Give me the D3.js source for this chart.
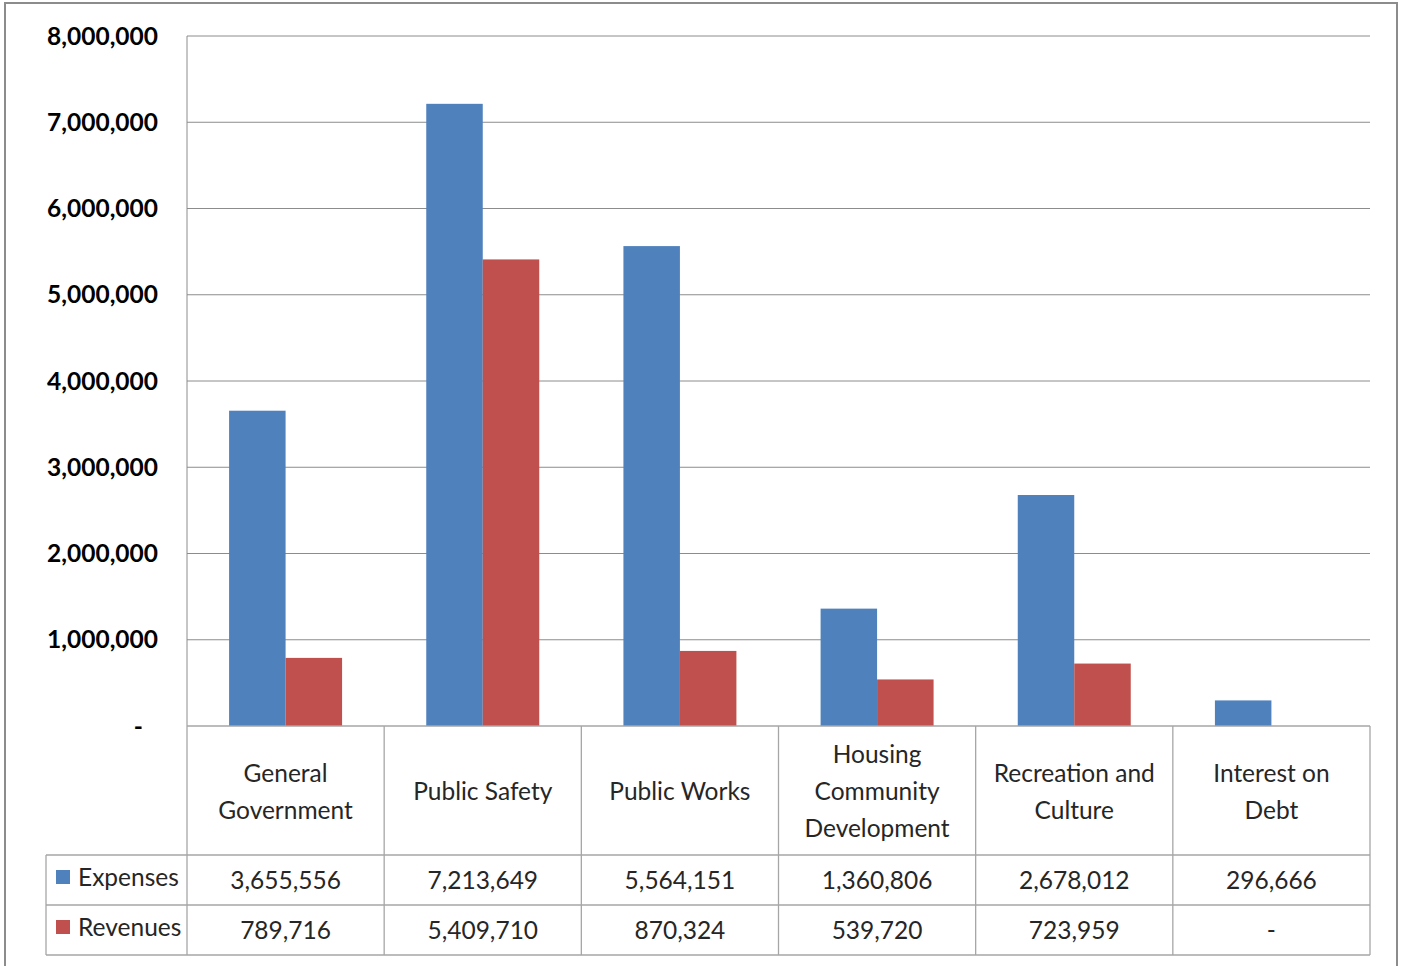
<!DOCTYPE html>
<html><head><meta charset="utf-8">
<script src="https://cdn.jsdelivr.net/npm/d3@7"></script>
<style>body{margin:0;background:#fff}svg{display:block}</style>
</head><body>
<script>
const categories = [["General","Government"],["Public Safety"],["Public Works"],["Housing","Community","Development"],["Recreation and","Culture"],["Interest on","Debt"]];
const seriesNames = ["Expenses","Revenues"];
const expenses = [3655556, 7213649, 5564151, 1360806, 2678012, 296666];
const revenues = [789716, 5409710, 870324, 539720, 723959, 0];
const yTicks = [0,1000000,2000000,3000000,4000000,5000000,6000000,7000000,8000000];
const colors = ["#4F81BD","#C0504D"];

const W=1401,H=966;
const svg=d3.select("body").append("svg").attr("width",W).attr("height",H);
const font="Lato, 'Open Sans', sans-serif";
svg.append("rect").attr("x",5).attr("y",3).attr("width",1392).attr("height",H+10).attr("fill","#fff").attr("stroke","#8c8c8c").attr("stroke-width",2);

const L=187,R=1370,T=36,B=726;
const ids=d3.range(categories.length);
const x=d3.scaleBand().domain(ids).range([L,R]).paddingInner(0).paddingOuter(0);
const x1=d3.scaleBand().domain([0,1]).range([0,x.bandwidth()]).paddingOuter(0.745).paddingInner(0);
const y=d3.scaleLinear().domain([0,8000000]).range([B,T]);

const gridC="#8c8c8c";
svg.append("g").selectAll("line").data(yTicks.filter(d=>d>0)).join("line")
 .attr("x1",L).attr("x2",R).attr("y1",d=>y(d)).attr("y2",d=>y(d)).attr("stroke",gridC).attr("stroke-width",1);
svg.append("line").attr("x1",L).attr("x2",L).attr("y1",T).attr("y2",B).attr("stroke",gridC);

const fmt=d3.format(",");
svg.append("g").selectAll("text").data(yTicks).join("text")
 .attr("x",d=>d===0?143:158).attr("y",d=>y(d)).attr("dy","0.35em")
 .attr("text-anchor","end")
 .attr("font-family",font).attr("font-weight","bold").attr("font-size",24.5).attr("fill","#000")
 .text(d=>d===0?"-":fmt(d));

const data=[expenses,revenues];
const g=svg.append("g");
data.forEach((vals,si)=>{
  g.selectAll(null).data(vals.map((v,i)=>({v,i}))).join("rect")
   .attr("x",d=>x(d.i)+x1(si)).attr("width",x1.bandwidth())
   .attr("y",d=>y(d.v)).attr("height",d=>B-y(d.v)).attr("fill",colors[si]);
});

const tC="#a6a6a6";
const rows=[B,855,905,955];
const tbl=svg.append("g").attr("stroke",tC).attr("stroke-width",1.3);
tbl.append("line").attr("x1",L).attr("x2",R).attr("y1",B).attr("y2",B);
[855,905,955].forEach(yy=>tbl.append("line").attr("x1",46).attr("x2",R).attr("y1",yy).attr("y2",yy));
ids.concat([categories.length]).forEach(i=>{
  const xx=i<categories.length?x(i):R;
  tbl.append("line").attr("x1",xx).attr("x2",xx).attr("y1",B).attr("y2",955);
});
tbl.append("line").attr("x1",46).attr("x2",46).attr("y1",855).attr("y2",955);

const txtC="#262626";
ids.forEach(i=>{
  const lines=categories[i];
  const cy=(B+855)/2+1, lh=37;
  lines.forEach((t,k)=>{
    svg.append("text").attr("x",x(i)+x.bandwidth()/2).attr("y",cy+(k-(lines.length-1)/2)*lh).attr("dy","0.35em")
     .attr("text-anchor","middle").attr("font-family",font).attr("font-size",24.5).attr("fill",txtC).text(t);
  });
});
data.forEach((vals,si)=>{
  const cy=(rows[si+1]+rows[si+2])/2;
  vals.forEach((v,i)=>{
    svg.append("text").attr("x",x(i)+x.bandwidth()/2).attr("y",cy).attr("dy","0.35em")
     .attr("text-anchor","middle").attr("font-family",font).attr("font-size",24.5).attr("fill",txtC).text(v===0?"-":fmt(v));
  });
  svg.append("rect").attr("x",56).attr("y",cy-7-3).attr("width",14).attr("height",14).attr("fill",colors[si]);
  svg.append("text").attr("x",78).attr("y",cy-3).attr("dy","0.35em").attr("font-family",font).attr("font-size",24.5).attr("fill",txtC).text(seriesNames[si]);
});
</script>
</body></html>
